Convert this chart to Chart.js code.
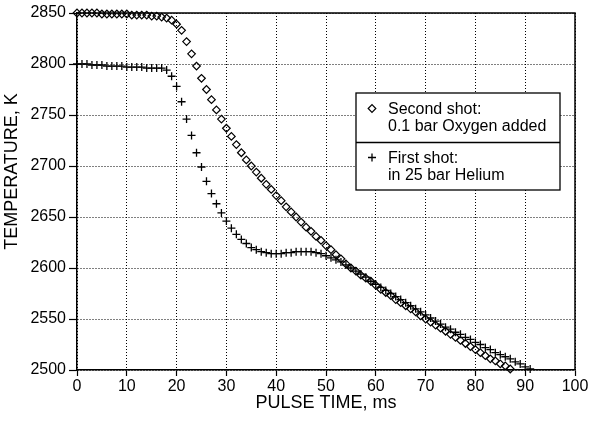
<!DOCTYPE html>
<html>
<head>
<meta charset="utf-8">
<script src="https://cdn.jsdelivr.net/npm/chart.js@4.4.1/dist/chart.umd.min.js"></script>
<style>
html,body{margin:0;padding:0;background:#ffffff;}
canvas{display:block;}
</style>
</head>
<body>
<canvas id="c" width="590" height="426"></canvas>
<script>
// ---------------- data ----------------
const secondShotTime = [0,1,2,3,4,5,6,7,8,9,10,11,12,13,14,15,16,17,18,19,20,21,22,23,24,25,26,27,28,29,30,31,32,33,34,35,36,37,38,39,40,41,42,43,44,45,46,47,48,49,50,51,52,53,54,55,56,57,58,59,60,61,62,63,64,65,66,67,68,69,70,71,72,73,74,75,76,77,78,79,80,81,82,83,84,85,86,87];
const secondShotTemp = [2850,2850,2850,2850,2850,2849,2849,2849,2849,2849,2849,2848,2848,2848,2848,2847,2847,2846,2845,2843,2839,2833,2822,2810,2798,2786,2775,2765,2755,2746,2737,2729,2721,2713,2706,2700,2694,2688,2682,2677,2671,2666,2660,2655,2650,2645,2640,2636,2631,2627,2622,2618,2613,2609,2604,2600,2597,2593,2590,2587,2583,2579,2576,2573,2569,2566,2563,2560,2557,2553,2550,2547,2544,2541,2538,2535,2532,2529,2526,2523,2520,2517,2514,2511,2509,2506,2504,2501];
const firstShotTime = [0,1,2,3,4,5,6,7,8,9,10,11,12,13,14,15,16,17,18,19,20,21,22,23,24,25,26,27,28,29,30,31,32,33,34,35,36,37,38,39,40,41,42,43,44,45,46,47,48,49,50,51,52,53,54,55,56,57,58,59,60,61,62,63,64,65,66,67,68,69,70,71,72,73,74,75,76,77,78,79,80,81,82,83,84,85,86,87,88,89,90,91];
const firstShotTemp = [2800,2800,2800,2799,2799,2799,2798,2798,2798,2798,2797,2797,2797,2797,2796,2796,2796,2796,2794,2788,2778,2763,2746,2730,2713,2699,2685,2673,2663,2654,2646,2639,2633,2628,2624,2620,2618,2616,2615,2614,2614,2614,2615,2615,2616,2616,2616,2616,2615,2614,2612,2610,2608,2606,2603,2600,2597,2594,2591,2587,2584,2581,2578,2575,2572,2569,2566,2563,2560,2557,2554,2551,2548,2545,2542,2540,2537,2535,2532,2530,2527,2525,2522,2520,2517,2515,2513,2511,2508,2506,2503,2501];
const xTickValues = [0,10,20,30,40,50,60,70,80,90,100];
const yTickValues = [2500,2550,2600,2650,2700,2750,2800,2850];
const xAxisTitle = 'PULSE TIME, ms';
const yAxisTitle = 'TEMPERATURE, K';
const secondShotLabel = ['Second shot:', '0.1 bar Oxygen added'];
const firstShotLabel = ['First shot:', 'in 25 bar Helium'];

// ---------------- chart ----------------
const FONT = "'Liberation Sans', Arial, sans-serif";

const toPoints = (xs, ys) => xs.map((x, i) => ({x: x, y: ys[i]}));

const framePlugin = {
  id: 'frame',
  beforeDatasetsDraw(chart) {
    const {ctx, chartArea: a} = chart;
    ctx.save();
    ctx.strokeStyle = '#000';
    ctx.lineWidth = 1.5;
    ctx.beginPath();
    ctx.moveTo(a.left, a.top);
    ctx.lineTo(a.right, a.top);
    ctx.lineTo(a.right, a.bottom);
    ctx.stroke();
    ctx.restore();
  }
};

const yTitlePlugin = {
  id: 'yTitle',
  afterDraw(chart) {
    const {ctx, chartArea: a} = chart;
    ctx.save();
    ctx.fillStyle = '#000';
    ctx.font = '18px ' + FONT;
    ctx.textAlign = 'center';
    ctx.textBaseline = 'middle';
    ctx.translate(12, (a.top + a.bottom) / 2 - 20);
    ctx.rotate(-Math.PI / 2);
    ctx.fillText(yAxisTitle, 0, 0);
    ctx.restore();
  }
};

const boxLegendPlugin = {
  id: 'boxLegend',
  afterDatasetsDraw(chart) {
    const {ctx, chartArea: a} = chart;
    const left = a.left + 279, top = a.top + 80, w = 204, h = 97, split = 49.5;
    ctx.save();
    ctx.fillStyle = '#fff';
    ctx.fillRect(left, top, w, h);
    ctx.strokeStyle = '#000';
    ctx.lineWidth = 1.3;
    ctx.strokeRect(left, top, w, h);
    ctx.beginPath();
    ctx.moveTo(left, top + split);
    ctx.lineTo(left + w, top + split);
    ctx.stroke();

    const entries = [
      {ds: chart.data.datasets[0], lines: secondShotLabel, y: top + 16.5},
      {ds: chart.data.datasets[1], lines: firstShotLabel, y: top + 65.5}
    ];
    ctx.font = '16px ' + FONT;
    ctx.textAlign = 'left';
    ctx.textBaseline = 'middle';
    entries.forEach(e => {
      ctx.fillStyle = '#fff';
      ctx.strokeStyle = '#000';
      ctx.lineWidth = e.ds.borderWidth;
      Chart.helpers.drawPoint(ctx, {
        pointStyle: e.ds.pointStyle, radius: e.ds.pointRadius,
        rotation: 0, borderWidth: e.ds.borderWidth
      }, left + 16, e.y - 1);
      ctx.fillStyle = '#000';
      e.lines.forEach((t, i) => ctx.fillText(t, left + 32, e.y + i * 16.8));
    });
    ctx.restore();
  }
};

new Chart(document.getElementById('c').getContext('2d'), {
  type: 'scatter',
  data: {
    datasets: [
      {
        label: secondShotLabel.join(' '),
        data: toPoints(secondShotTime, secondShotTemp),
        pointStyle: 'rectRot',
        pointRadius: 3.8,
        borderColor: '#000',
        backgroundColor: 'rgba(255,255,255,0)',
        borderWidth: 1.2,
        showLine: false,
        clip: false
      },
      {
        label: firstShotLabel.join(' '),
        data: toPoints(firstShotTime, firstShotTemp),
        pointStyle: 'cross',
        pointRadius: 4,
        borderColor: '#000',
        backgroundColor: '#000',
        borderWidth: 1.3,
        showLine: false,
        clip: false
      }
    ]
  },
  options: {
    responsive: false,
    animation: false,
    devicePixelRatio: 1,
    layout: {padding: {top: 13, right: 15, left: 0, bottom: 0}},
    plugins: {legend: {display: false}, tooltip: {enabled: false}},
    scales: {
      x: {
        type: 'linear',
        min: 0, max: 100,
        afterBuildTicks: s => { s.ticks = xTickValues.map(v => ({value: v})); },
        afterFit: s => { s.height = 56; },
        grid: {color: '#000', lineWidth: 1, tickLength: 6, tickColor: '#000', tickWidth: 1.2},
        border: {display: true, color: '#000', width: 1.5, dash: [1, 2]},
        ticks: {color: '#000', font: {family: FONT, size: 16}, padding: 1, maxRotation: 0, callback: v => String(v)},
        title: {display: true, text: xAxisTitle, color: '#000', font: {family: FONT, size: 18}, padding: {top: 0, bottom: 12}}
      },
      y: {
        type: 'linear',
        min: 2500, max: 2850,
        afterBuildTicks: s => { s.ticks = yTickValues.map(v => ({value: v})); },
        afterFit: s => { s.width = 77; },
        grid: {color: '#000', lineWidth: 1, tickLength: 8, tickColor: '#000', tickWidth: 1.2},
        border: {display: true, color: '#000', width: 1.5, dash: [1, 2]},
        ticks: {color: '#000', font: {family: FONT, size: 16}, padding: 3, callback: v => String(v)},
        title: {display: false, text: yAxisTitle}
      }
    }
  },
  plugins: [framePlugin, boxLegendPlugin, yTitlePlugin]
});
</script>
</body>
</html>
